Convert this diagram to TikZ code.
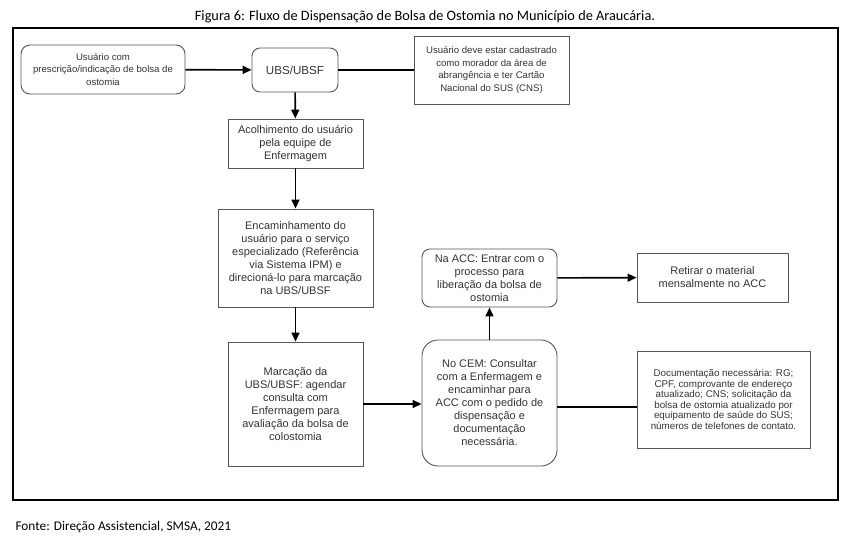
\documentclass[tikz,border=0pt]{standalone}
\usepackage{fontspec}
\setmainfont{Liberation Sans}
\newfontfamily\calibri{Carlito}
\usetikzlibrary{arrows.meta}

\begin{document}
\begin{tikzpicture}[x=1pt,y=-1pt,
        box/.style={draw=boxline, line width=0.9pt, inner sep=0pt, align=center, text=txt,
            font=\fontsize{11}{13}\selectfont},
        rbox/.style={box, rounded corners=8pt},
        small/.style={font=\fontsize{9.6}{12.4}\selectfont},
        arr/.style={line width=1.6pt, -{Triangle[length=9pt,width=8pt]}},
        link/.style={line width=1.6pt}]
        % Define colors
        \definecolor{boxline}{RGB}{85,85,85}
        \definecolor{txt}{RGB}{51,51,51}
        \useasboundingbox (0,0) rectangle (848,550);

        % --- TITLE AND FRAME ---
        \node (title) at (425,17) {\calibri\fontsize{14.3}{16}\selectfont Figura 6: Fluxo de Dispensação de Bolsa de Ostomia no Município de Araucária.};
        \draw[line width=1.3pt] (13,28) rectangle (838,500);
        \node[anchor=west] (fonte) at (12,527) {\calibri\fontsize{13.3}{15}\selectfont Fonte: Direção Assistencial, SMSA, 2021};

        % --- TOP ROW ---
        \node[rbox, small, rounded corners=9pt, minimum width=164pt, minimum height=49pt] (usuario) at (103,69.5)
            {Usuário com\\prescrição/indicação de bolsa de\\ostomia};
        \node[rbox, font=\fontsize{11.6}{14}\selectfont, minimum width=86pt, minimum height=44pt] (ubs) at (295,70) {UBS/UBSF};
        \node[box, small, minimum width=155pt, minimum height=68pt] (cns) at (491.5,70)
            {Usuário deve estar cadastrado\\como morador da área de\\abrangência e ter Cartão\\Nacional do SUS (CNS)};

        % --- LEFT COLUMN ---
        \node[box, minimum width=135pt, minimum height=49pt] (acolhimento) at (295.5,143.5)
            {Acolhimento do usuário\\pela equipe de\\Enfermagem};
        \node[box, minimum width=155pt, minimum height=98pt] (encaminhamento) at (295.5,258)
            {Encaminhamento do\\usuário para o serviço\\especializado (Referência\\via Sistema IPM) e\\direcioná-lo para marcação\\na UBS/UBSF};
        \node[box, minimum width=135pt, minimum height=124pt] (marcacao) at (295.5,404)
            {Marcação da\\UBS/UBSF: agendar\\consulta com\\Enfermagem para\\avaliação da bolsa de\\colostomia};

        % --- MIDDLE COLUMN ---
        \node[rbox, rounded corners=16pt, minimum width=135pt, minimum height=126pt] (cem) at (489.5,403)
            {No CEM: Consultar\\com a Enfermagem e\\encaminhar para\\ACC com o pedido de\\dispensação e\\documentação\\necessária.};
        \node[rbox, minimum width=135pt, minimum height=58pt] (acc) at (489.5,278)
            {Na ACC: Entrar com o\\processo para\\liberação da bolsa de\\ostomia};

        % --- RIGHT COLUMN ---
        \node[box, minimum width=151pt, minimum height=49pt] (retirar) at (712.5,277.5)
            {Retirar o material\\mensalmente no ACC};
        \node[box, font=\fontsize{9.8}{10.6}\selectfont, minimum width=173pt, minimum height=97pt] (documentos) at (723.5,399.5)
            {Documentação necessária: RG;\\CPF, comprovante de endereço\\atualizado; CNS; solicitação da\\bolsa de ostomia atualizado por\\equipamento de saúde do SUS;\\números de telefones de contato.};

        % Connectors
        \draw[arr] (usuario) -- (ubs);
        \draw[link] (ubs) -- (cns);
        \draw[arr] (ubs) -- (acolhimento);
        \draw[arr] (acolhimento) -- (encaminhamento);
        \draw[arr] (encaminhamento) -- (marcacao);
        \draw[arr] (marcacao.east) -- (marcacao.east -| cem.west);
        \draw[arr] (cem) -- (acc);
        \draw[arr] (acc) -- (retirar);
        \draw[link] ([yshift=-4pt]cem.east) -- ([yshift=-4pt]cem.east -| documentos.west);
    \end{tikzpicture}
\end{document}
